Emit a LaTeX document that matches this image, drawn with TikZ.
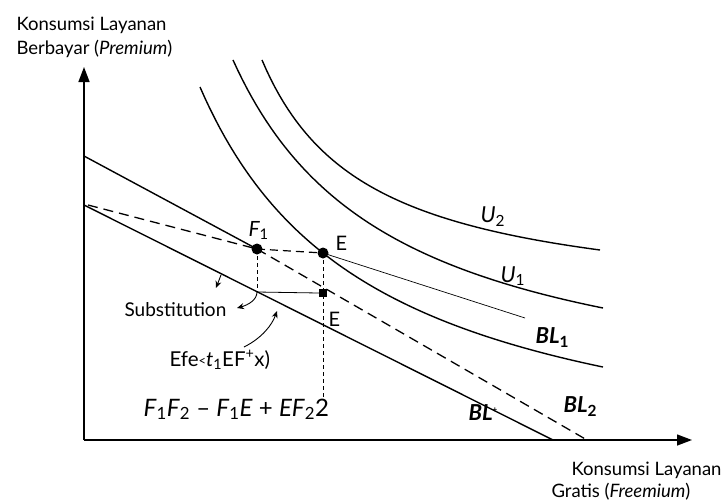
\documentclass[tikz,border=0pt]{standalone}
\usepackage{fontspec}
\setmainfont{Lato}
\usetikzlibrary{arrows.meta}
\tikzset{
    axis/.style = {
        line width=1.4pt,
        -{Triangle[length=15pt, width=11pt]}
    },
    budget/.style = {
        line width=1.4pt
    },
    longdash/.style = {
        line width=1.3pt,
        dash pattern=on 10pt off 6pt
    },
    guide/.style = {
        line width=1.2pt,
        dash pattern=on 8pt off 5pt
    },
    fineguide/.style = {
        line width=1pt,
        dash pattern=on 4pt off 3pt
    },
    dot/.style = {
        circle, fill,
        inner sep=0pt, minimum size=11pt
    },
    marker/.style = {
        rectangle, fill,
        inner sep=0pt, minimum size=8pt
    },
    curvelabel/.style = {
        anchor=base west,
        font=\fontsize{22}{24}\selectfont\itshape
    },
    boldlabel/.style = {
        anchor=base west,
        font=\fontsize{22}{24}\selectfont\bfseries\itshape
    },
    note/.style = {
        anchor=base west,
        font=\fontsize{20}{23}\selectfont
    },
    title/.style = {
        anchor=base west,
        font=\fontsize{18.5}{22}\selectfont
    },
    pointer/.style = {
        line width=0.9pt,
        -{Stealth[length=7pt, width=6pt]}
    }
}

\begin{document}
\begin{tikzpicture}[x=1pt, y=-1pt]
\useasboundingbox (0,0) rectangle (724,504);

% axes
\coordinate (O) at (84,440);
\coordinate (ytop) at (84,67);
\coordinate (xend) at (692,440);
\draw [axis] (O) -- (ytop);
\draw [axis] (O) -- (xend);

% budget lines
\coordinate (BLoneA) at (84,156);
\coordinate (BLtwoA) at (88,205);
\coordinate (BLtwoB) at (587,440);
\coordinate (BLstarA) at (84,205);
\coordinate (BLstarB) at (553,440);
\coordinate (F1) at (257,249);
\coordinate (E) at (323,253);
\coordinate (foot) at (257,292);
\coordinate (Ebase) at (323,397);
\coordinate (tailend) at (525,318);

\draw [budget] (BLoneA) -- (F1);
\draw [longdash] (F1) -- (BLtwoB);
\draw [longdash] (BLtwoA) -- (F1);
\draw [budget] (BLstarA) -- (BLstarB);

% curves
\draw [budget] plot[domain=200:603, samples=80] (\x, {488 - 698.10/((\x-25.9)/100)});
\draw [budget] plot[domain=233:603, samples=80] (\x, {415.6 - 570.76/((\x-72.5)/100)});
\draw [budget] plot[domain=262:600, samples=80] (\x, {309.3 - 263.02/((\x-156.5)/100)});

% guides
\draw [guide] (F1) -- (E);
\draw [fineguide] (F1) -- (foot);
\draw [fineguide] (E) -- (Ebase);
\draw [line width=0.7pt] (E) -- (tailend);

\node [dot] (F1dot) at (F1) {};
\node [dot] (Edot) at (E) {};
\node [marker] (Elow) at (323,293) {};
\draw [line width=0.8pt] (foot) -- (Elow.west);

% pointers
\draw [pointer] (foot) .. controls (257,300) and (248,305) .. (237,308);
\draw [pointer] (244,347) .. controls (262,338) and (272,325) .. (277,311);
\draw [pointer] (221,275) -- (216,288);

% labels
\node [curvelabel] (U2lab) at (477,222) {U\textsubscript{\upshape 2}};
\node [curvelabel] (U1lab) at (497,282) {U\textsubscript{\upshape 1}};
\node [boldlabel] (BL1lab) at (532,343) {BL\textsubscript{\upshape 1}};
\node [boldlabel] (BL2lab) at (560,412) {BL\textsubscript{\upshape 2}};
\node [boldlabel] (BLstarlab) at (465,420) {BL\textsuperscript{\upshape\footnotesize +}};
\node [curvelabel, font=\fontsize{21}{23}\selectfont\itshape] (F1lab) at (245,236) {F\textsubscript{\upshape 1}};
\node [note] (Elab) at (332,250) {E};
\node [note] (Elowlab) at (325,326) {E};
\node [note, font=\fontsize{19}{22}\selectfont] (sublab) at (121,316) {Substitution};
\node [note, font=\fontsize{20.5}{23}\selectfont] (efflab) at (166,366) {Efe\raisebox{1pt}{\fontsize{13}{13}\selectfont<}\textit{t}\textsubscript{1}EF\textsuperscript{+}x)};
\node [note, font=\fontsize{24}{26}\selectfont] (formula) at (140,416)
    {\textit{F}\textsubscript{1}\textit{F}\textsubscript{2} -- \textit{F}\textsubscript{1}\textit{E} + \textit{EF}\textsubscript{2}2};

% axis titles
\node [title] (ytitleA) at (13,30) {Konsumsi Layanan};
\node [title] (ytitleB) at (13,54) {Berbayar (\textit{Premium})};
\node [title] (xtitleA) at (568,475) {Konsumsi Layanan};
\node [title] (xtitleB) at (548,497) {Gratis (\textit{Freemium})};

\end{tikzpicture}
\end{document}
